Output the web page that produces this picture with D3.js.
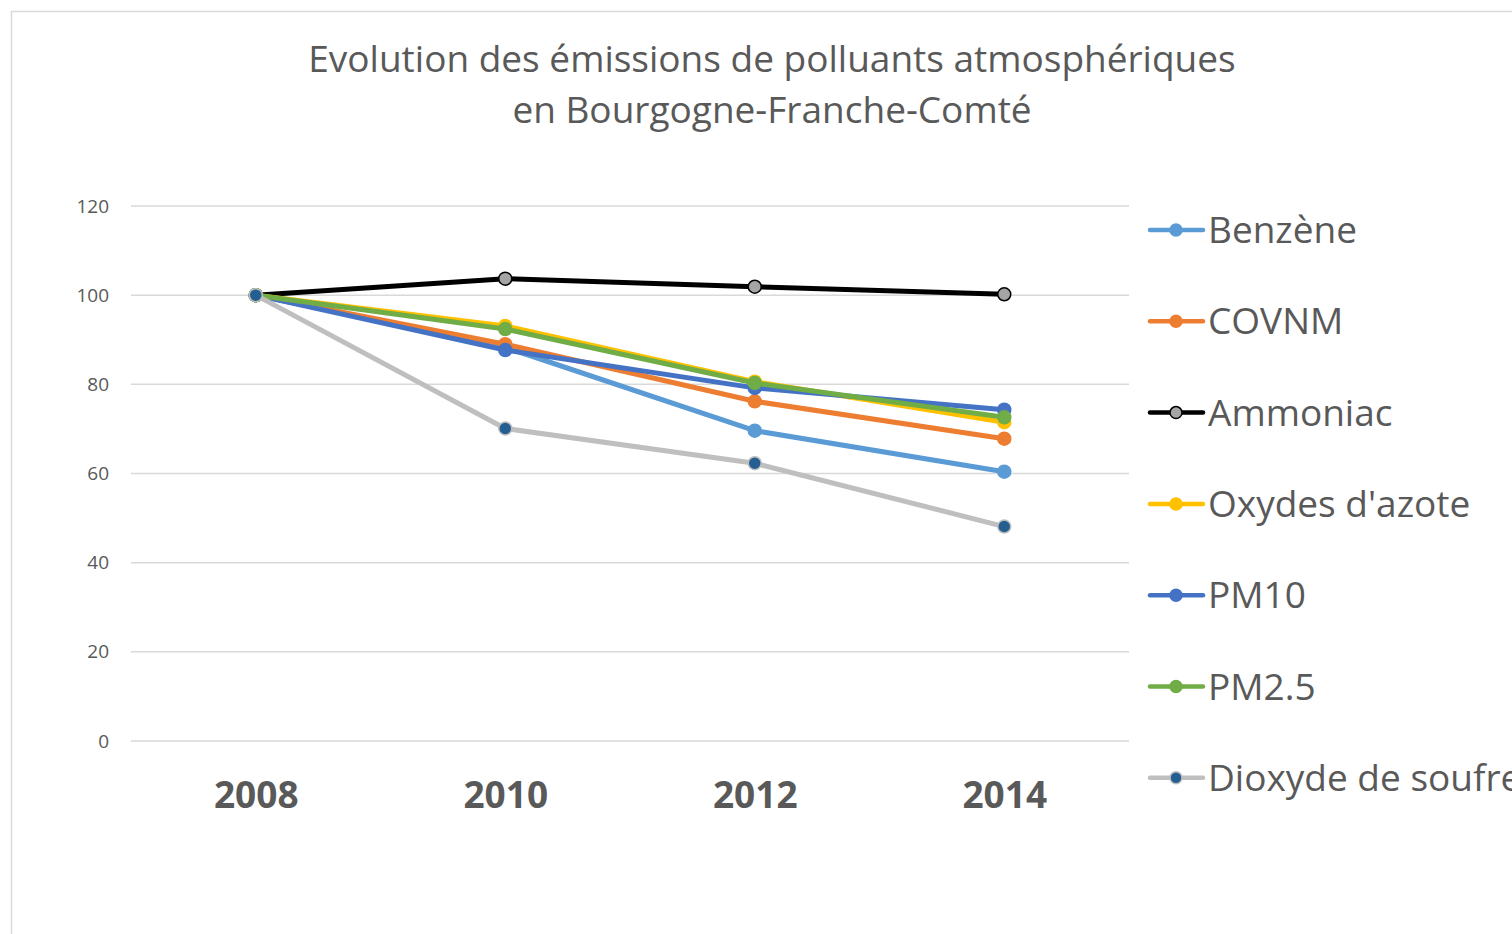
<!DOCTYPE html>
<html>
<head>
<meta charset="utf-8">
<script src="https://cdn.jsdelivr.net/npm/d3@7"></script>
<style>
  body { margin: 0; background: #fff; }
  svg text { font-family: "Open Sans", "Noto Sans", sans-serif; fill: #595959; }
</style>
</head>
<body>
<div id="chart"></div>
<script>
// Years on the x axis
var years = ["2008", "2010", "2012", "2014"];

// Pollutant names (legend order)
var pollutants = ["Benzène", "COVNM", "Ammoniac", "Oxydes d'azote", "PM10", "PM2.5", "Dioxyde de soufre"];

// Index values (base 100 in 2008)
var benzene   = [100, 88.3, 69.6, 60.4];
var covnm     = [100, 89.0, 76.2, 67.8];
var ammoniac  = [100, 103.7, 101.9, 100.2];
var oxydes    = [100, 93.1, 80.6, 71.5];
var pm10      = [100, 87.7, 79.2, 74.3];
var pm25      = [100, 92.4, 80.3, 72.6];
var dioxyde   = [100, 70.1, 62.3, 48.1];

var yTicks = [0, 20, 40, 60, 80, 100, 120];

var seriesValues = [benzene, covnm, ammoniac, oxydes, pm10, pm25, dioxyde];
var lineColors   = ["#5b9bd5", "#ed7d31", "#000000", "#ffc000", "#4472c4", "#70ad47", "#bfbfbf"];
var markerFill   = ["#5b9bd5", "#ed7d31", "#a5a5a5", "#ffc000", "#4472c4", "#70ad47", "#255e91"];
var markerStroke = ["#5b9bd5", "#ed7d31", "#000000", "#ffc000", "#4472c4", "#70ad47", "#bfbfbf"];

var W = 1512, H = 934;

var svg = d3.select("#chart").append("svg")
    .attr("width", W)
    .attr("height", H);

// chart frame
svg.append("rect")
    .attr("x", 11.5).attr("y", 11.5)
    .attr("width", W).attr("height", H)
    .attr("fill", "#fff")
    .attr("stroke", "#d9d9d9")
    .attr("stroke-width", 1.5);

// Title
var title = svg.append("text")
    .attr("text-anchor", "middle")
    .style("font-size", "37px");
title.append("tspan").attr("x", 772).attr("y", 72)
    .text("Evolution des émissions de polluants atmosphériques");
title.append("tspan").attr("x", 772).attr("y", 123)
    .text("en Bourgogne-Franche-Comté");

// Scales
var plotLeft = 131, plotRight = 1129;

var x = d3.scalePoint()
    .domain(years)
    .range([plotLeft, plotRight])
    .padding(0.5);

var y = d3.scaleLinear()
    .domain([0, 120])
    .range([741, 206]);

// Gridlines
svg.append("g")
    .selectAll("line")
    .data(yTicks)
    .enter()
    .append("line")
    .attr("x1", plotLeft)
    .attr("x2", plotRight)
    .attr("y1", function (d) { return y(d); })
    .attr("y2", function (d) { return y(d); })
    .attr("stroke", "#d9d9d9")
    .attr("stroke-width", 1.5);

// Y axis labels
var yAxis = svg.append("g")
    .attr("transform", "translate(" + (plotLeft - 22) + ",0)")
    .call(d3.axisLeft(y).tickValues(yTicks).tickSize(0).tickPadding(0));
yAxis.select(".domain").remove();
yAxis.selectAll("text")
    .style("font-size", "19px")
    .style("fill", "#595959")
    .attr("text-anchor", "end");

// X axis labels
var xAxis = svg.append("g")
    .attr("transform", "translate(0," + 741 + ")")
    .call(d3.axisBottom(x).tickSize(0).tickPadding(0));
xAxis.select(".domain").remove();
xAxis.selectAll("text")
    .attr("dy", null)
    .attr("y", 67)
    .style("font-size", "37px")
    .style("font-weight", "bold")
    .style("fill", "#595959");

// Lines and markers
var line = d3.line()
    .x(function (d, i) { return x(years[i]); })
    .y(function (d) { return y(d); });

for (var s = 0; s < pollutants.length; s++) {
    svg.append("path")
        .datum(seriesValues[s])
        .attr("fill", "none")
        .attr("stroke", lineColors[s])
        .attr("stroke-width", 5)
        .attr("stroke-linejoin", "round")
        .attr("d", line);

    svg.selectAll(".m" + s)
        .data(seriesValues[s])
        .enter()
        .append("circle")
        .attr("class", "m" + s)
        .attr("cx", function (d, i) { return x(years[i]); })
        .attr("cy", function (d) { return y(d); })
        .attr("r", 6.5)
        .attr("fill", markerFill[s])
        .attr("stroke", markerStroke[s])
        .attr("stroke-width", 1.5);
}

// Legend
var legend = svg.append("g");
var legendTop = 230, legendStep = 91.3;
pollutants.forEach(function (name, i) {
    var gy = legendTop + i * legendStep;
    var g = legend.append("g").attr("transform", "translate(0," + gy + ")");
    g.append("line")
        .attr("x1", 1150).attr("x2", 1203)
        .attr("y1", 0).attr("y2", 0)
        .attr("stroke", lineColors[i])
        .attr("stroke-width", 4.5)
        .attr("stroke-linecap", "round");
    g.append("circle")
        .attr("cx", 1176).attr("cy", 0).attr("r", 6)
        .attr("fill", markerFill[i])
        .attr("stroke", markerStroke[i])
        .attr("stroke-width", 1.5);
    g.append("text")
        .attr("x", 1208).attr("y", 13)
        .style("font-size", "37px")
        .text(name);
});
</script>
</body>
</html>
